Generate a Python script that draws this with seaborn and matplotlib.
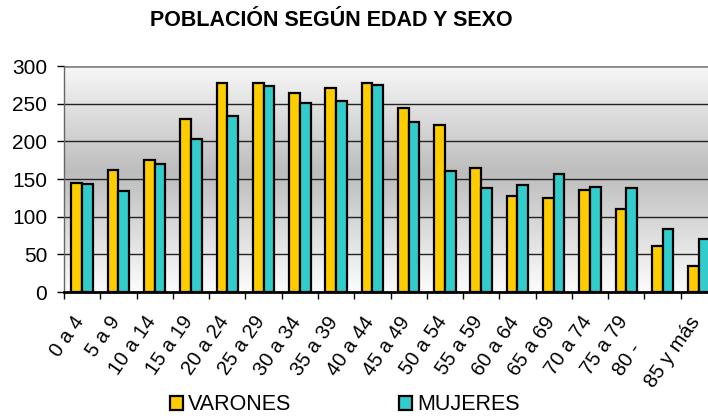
import numpy as np
import pandas as pd
import matplotlib
matplotlib.use("Agg")
import matplotlib.pyplot as plt
import matplotlib.transforms as mtransforms
from matplotlib.patches import Patch
import seaborn as sns

# datos
edades = ["0 a 4", "5 a 9", "10 a 14", "15 a 19", "20 a 24", "25 a 29",
          "30 a 34", "35 a 39", "40 a 44", "45 a 49", "50 a 54", "55 a 59",
          "60 a 64", "65 a 69", "70 a 74", "75 a 79", "80 -", "85 y más"]
varones = [145, 162, 175, 230, 277, 278, 264, 271, 278, 244, 222, 165,
           128, 125, 135, 110, 61, 35]
mujeres = [143, 134, 170, 203, 234, 273, 251, 254, 275, 226, 160, 138,
           142, 156, 139, 138, 83, 70]
series = ["VARONES", "MUJERES"]
colores = ["#FFCC00", "#33CCCC"]

df = pd.DataFrame({
    "Edad": edades * 2,
    "Sexo": [series[0]] * len(edades) + [series[1]] * len(edades),
    "Valor": varones + mujeres,
})

sns.set_style("white")
plt.rcParams["font.family"] = ["Liberation Sans", "DejaVu Sans"]
plt.rcParams["text.color"] = "black"
plt.rcParams["xtick.color"] = "black"
plt.rcParams["ytick.color"] = "black"

fig = plt.figure(figsize=(7.08, 4.16), dpi=100)
ax = fig.add_axes([64 / 708, 124 / 416, 653 / 708, 226 / 416])

# fondo degradado gris (vertical: blanco arriba y abajo, gris al centro)
g = np.linspace(0, 1, 256)
brillo = np.interp(g, [0, 0.53, 1], [0.99, 0.74, 0.97])
grad = np.repeat(brillo[:, None, None], 3, axis=2)
ax.imshow(grad, extent=[0, 1, 0, 1], transform=ax.transAxes, aspect="auto",
          origin="lower", zorder=0)

sns.barplot(data=df, x="Edad", y="Valor", hue="Sexo", hue_order=series,
            palette=colores, width=0.59, edgecolor="black", linewidth=1.6,
            saturation=1, legend=False, ax=ax, zorder=3)

ax.set_xlim(-0.5, len(edades) - 0.5)
ax.set_ylim(0, 300)
ax.set_yticks(range(0, 301, 50))
for y in range(50, 300, 50):
    ax.axhline(y, color="#222222", linewidth=1, zorder=1)
ax.axhline(300, color="#8a8a8a", linewidth=2, zorder=1)

ax.set_xlabel("")
ax.set_ylabel("")
ax.set_xticks(np.arange(len(edades)))
ax.set_xticklabels(edades, rotation=55, ha="right", rotation_mode="anchor",
                   fontsize=14.5)
ax.set_xticks(np.arange(len(edades) + 1) - 0.5, minor=True)
ax.tick_params(axis="x", which="major", length=0, pad=15)
ax.tick_params(axis="x", which="minor", length=5, width=1, color="black",
               direction="out", bottom=True)
ax.tick_params(axis="y", length=5, width=1, color="black", direction="out",
               left=True, labelsize=15, pad=7)

# etiquetas algo a la izquierda; "80 -" aparece más abajo en el original
labs = ax.get_xticklabels()
for i, lab in enumerate(labs):
    dx, dy = (-0.33, -0.27) if i == 16 else (-0.1, 0)
    lab.set_transform(lab.get_transform() +
                      mtransforms.ScaledTranslation(dx, dy, fig.dpi_scale_trans))

for s in ["top", "right"]:
    ax.spines[s].set_visible(False)
ax.spines["left"].set_color("#666666")
ax.spines["left"].set_linewidth(1)
ax.spines["bottom"].set_color("black")
ax.spines["bottom"].set_linewidth(2)
ax.spines["bottom"].set_zorder(5)

fig.text(331 / 708, 1 - 21 / 416, "POBLACIÓN SEGÚN EDAD Y SEXO",
         ha="center", va="center", fontsize=15.5, fontweight="bold")

handles = [Patch(facecolor=c, edgecolor="black", linewidth=1.6) for c in colores]
fig.legend(handles, series, loc="center", bbox_to_anchor=(345 / 708, 1 - 405 / 416),
           ncol=2, frameon=False, fontsize=15.5, handlelength=0.6,
           handleheight=0.6, handletextpad=0.25, columnspacing=5.0,
           borderpad=0, borderaxespad=0)

fig.savefig("out.png", dpi=100)
